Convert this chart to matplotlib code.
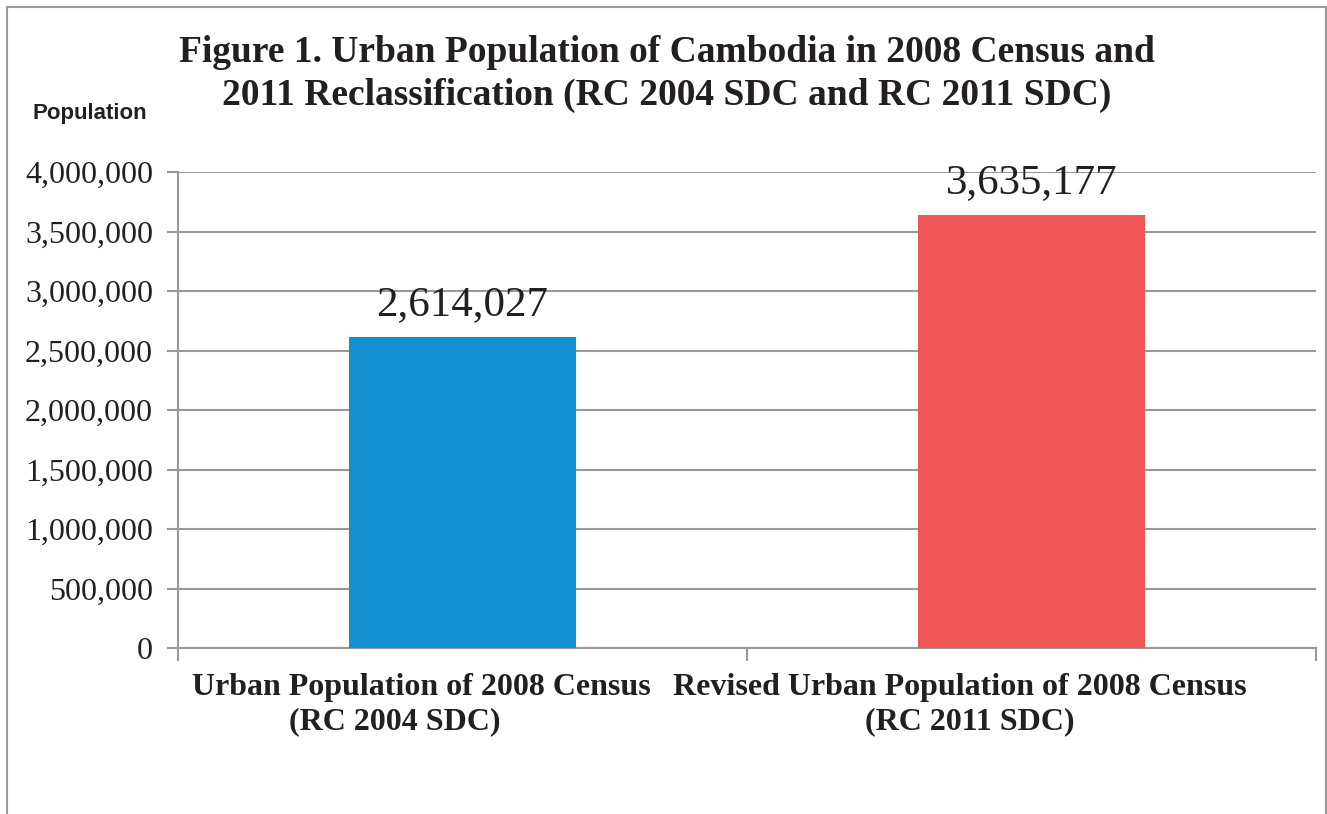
import matplotlib.pyplot as plt
from matplotlib.patches import Rectangle
from matplotlib.ticker import FuncFormatter

# data
categories = ['Urban Population of 2008 Census', 'Revised Urban Population of 2008 Census']
subtitles = ['(RC 2004 SDC)', '(RC 2011 SDC)']
population = [2614027, 3635177]
bar_colors = ['#1390d2', '#ef5555']

fig = plt.figure(figsize=(13.27, 8.14), dpi=100)
ax = fig.add_axes([0.1341, 0.2039, 0.8576, 0.5848])

x = range(len(categories))
ax.bar(x, population, width=0.4, color=bar_colors, zorder=3)

for xi, v in zip(x, population):
    ax.text(xi, v + 110000, f'{v:,}', ha='center', va='bottom',
            family='Liberation Serif', fontsize=31, color='#231f20')

ax.set_xlim(-0.5, 1.5)
ax.set_ylim(0, 4000000)
ax.set_yticks(range(0, 4000001, 500000))
ax.yaxis.set_major_formatter(FuncFormatter(lambda v, p: f'{int(v):,}'))
ax.grid(axis='y', color='#999999', linewidth=1.5, zorder=0)

# category ticks at boundaries; labels placed as in the original (slightly off-centre)
ax.set_xticks([-0.5, 0.5, 1.5])
ax.set_xticklabels([])
lab_kw = dict(ha='center', va='center', family='Liberation Serif',
              fontweight='bold', fontsize=23, color='#231f20',
              transform=ax.transAxes, clip_on=False)
for name, sub, x1, x2 in zip(categories, subtitles, [0.2135, 0.6872], [0.1907, 0.6960]):
    ax.text(x1, -0.082, name, **lab_kw)
    ax.text(x2, -0.1555, sub, **lab_kw)

ax.tick_params(axis='x', which='major', length=9, width=1.5, color='#999999')
ax.tick_params(axis='y', length=8, width=1.5, color='#999999', pad=10)
for lab in ax.get_yticklabels():
    lab.set_family('Liberation Serif')
    lab.set_fontsize(23)
    lab.set_color('#231f20')

for s in ['top', 'right']:
    ax.spines[s].set_visible(False)
for s in ['left', 'bottom']:
    ax.spines[s].set_color('#999999')
    ax.spines[s].set_linewidth(1.5)

fig.text(0.5026, 0.957, 'Figure 1. Urban Population of Cambodia in 2008 Census and\n'
         '2011 Reclassification (RC 2004 SDC and RC 2011 SDC)',
         ha='center', va='top', family='Liberation Serif', fontweight='bold',
         fontsize=27, color='#231f20', linespacing=1.3)
fig.text(0.0678, 0.861, 'Population', ha='center', va='center',
         family='Liberation Sans', fontweight='bold', fontsize=16,
         color='#231f20')

# outer frame (bottom edge runs off the image)
fig.patches.append(Rectangle((7 / 1327, -0.1), 1319 / 1327, 1.1 - 7 / 814,
                             transform=fig.transFigure, fill=False,
                             edgecolor='#999999', linewidth=1.5))

fig.savefig('out.png', dpi=100)
